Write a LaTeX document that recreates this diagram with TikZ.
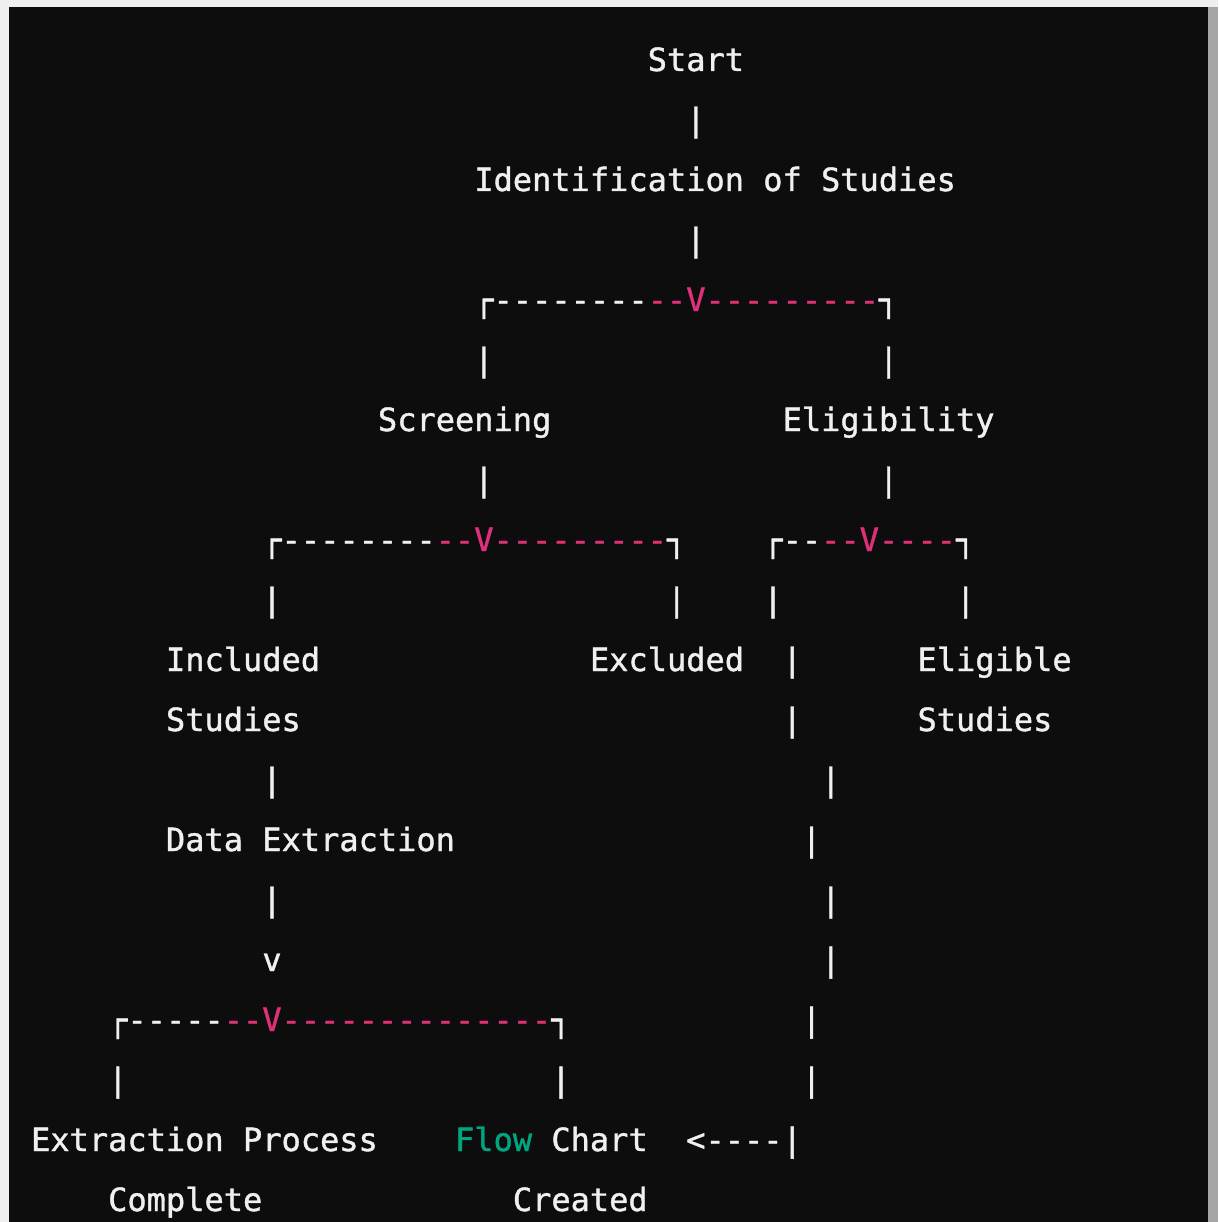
\documentclass[tikz,border=0pt]{standalone}
\usepackage{fontspec}
\setmainfont{DejaVu Sans Mono}[FakeBold=1.2]
\definecolor{pagebg}{HTML}{EFEFEF}
\definecolor{edgegray}{HTML}{A5A5A5}
\definecolor{termbg}{HTML}{0D0D0D}
\definecolor{fg}{HTML}{F0F0F0}
\definecolor{hlred}{HTML}{DF3079}
\definecolor{hlgreen}{HTML}{00A67D}
\tikzset{
  txt/.style={anchor=base west, inner sep=0pt, outer sep=0pt,
              font=\fontsize{32}{32}\selectfont, text=fg}
}
\newcommand\cellnode[5]{\node[txt,text=#4] (#1) at ({31.1+#2*19.27},{71+#3*60}) {#5};}
\begin{document}
\begin{tikzpicture}[x=1pt,y=-1pt]
\useasboundingbox (0,0) rectangle (1218,1222);
\fill[pagebg] (0,0) rectangle (1218,1222);
\fill[edgegray] (1208,7) rectangle (1218,1222);
\fill[termbg] (9,7) rectangle (1208,1222);
% row 0-3
\cellnode{start}{32}{0}{fg}{Start}
\cellnode{p1}{34}{1}{fg}{|}
\cellnode{ident}{23}{2}{fg}{Identification of Studies}
\cellnode{p3}{34}{3}{fg}{|}
% row 4 bracket
\cellnode{b4l}{23}{4}{fg}{┌-{}-{}-{}-{}-{}-{}-{}-{}}
\cellnode{b4m}{32}{4}{hlred}{-{}-{}V-{}-{}-{}-{}-{}-{}-{}-{}-{}}
\cellnode{b4r}{44}{4}{fg}{┐}
% row 5
\cellnode{p5a}{23}{5}{fg}{|}
\cellnode{p5b}{44}{5}{fg}{|}
% row 6
\cellnode{screen}{18}{6}{fg}{Screening}
\cellnode{elig}{39}{6}{fg}{Eligibility}
% row 7
\cellnode{p7a}{23}{7}{fg}{|}
\cellnode{p7b}{44}{7}{fg}{|}
% row 8 brackets
\cellnode{b8l}{12}{8}{fg}{┌-{}-{}-{}-{}-{}-{}-{}-{}}
\cellnode{b8m}{21}{8}{hlred}{-{}-{}V-{}-{}-{}-{}-{}-{}-{}-{}-{}}
\cellnode{b8r}{33}{8}{fg}{┐}
\cellnode{c8l}{38}{8}{fg}{┌-{}-{}}
\cellnode{c8m}{41}{8}{hlred}{-{}-{}V-{}-{}-{}-{}}
\cellnode{c8r}{48}{8}{fg}{┐}
% row 9
\cellnode{p9a}{12}{9}{fg}{|}
\cellnode{p9b}{33}{9}{fg}{|}
\cellnode{p9c}{38}{9}{fg}{|}
\cellnode{p9d}{48}{9}{fg}{|}
% row 10-11
\cellnode{incl}{7}{10}{fg}{Included}
\cellnode{excl}{29}{10}{fg}{Excluded}
\cellnode{p10}{39}{10}{fg}{|}
\cellnode{eligs}{46}{10}{fg}{Eligible}
\cellnode{incl2}{7}{11}{fg}{Studies}
\cellnode{p11}{39}{11}{fg}{|}
\cellnode{eligs2}{46}{11}{fg}{Studies}
% row 12-15
\cellnode{p12a}{12}{12}{fg}{|}
\cellnode{p12b}{41}{12}{fg}{|}
\cellnode{data}{7}{13}{fg}{Data Extraction}
\cellnode{p13}{40}{13}{fg}{|}
\cellnode{p14a}{12}{14}{fg}{|}
\cellnode{p14b}{41}{14}{fg}{|}
\cellnode{v15}{12}{15}{fg}{v}
\cellnode{p15}{41}{15}{fg}{|}
% row 16 bracket
\cellnode{b16l}{4}{16}{fg}{┌-{}-{}-{}-{}-{}}
\cellnode{b16m}{10}{16}{hlred}{-{}-{}V-{}-{}-{}-{}-{}-{}-{}-{}-{}-{}-{}-{}-{}-{}}
\cellnode{b16r}{27}{16}{fg}{┐}
\cellnode{p16}{40}{16}{fg}{|}
% row 17
\cellnode{p17a}{4}{17}{fg}{|}
\cellnode{p17b}{27}{17}{fg}{|}
\cellnode{p17c}{40}{17}{fg}{|}
% row 18-19
\cellnode{extr}{0}{18}{fg}{Extraction Process}
\cellnode{flow}{22}{18}{hlgreen}{Flow}
\cellnode{chart}{27}{18}{fg}{Chart}
\cellnode{arrow}{34}{18}{fg}{<-{}-{}-{}-{}|}
\cellnode{compl}{4}{19}{fg}{Complete}
\cellnode{created}{25}{19}{fg}{Created}
\end{tikzpicture}
\end{document}
